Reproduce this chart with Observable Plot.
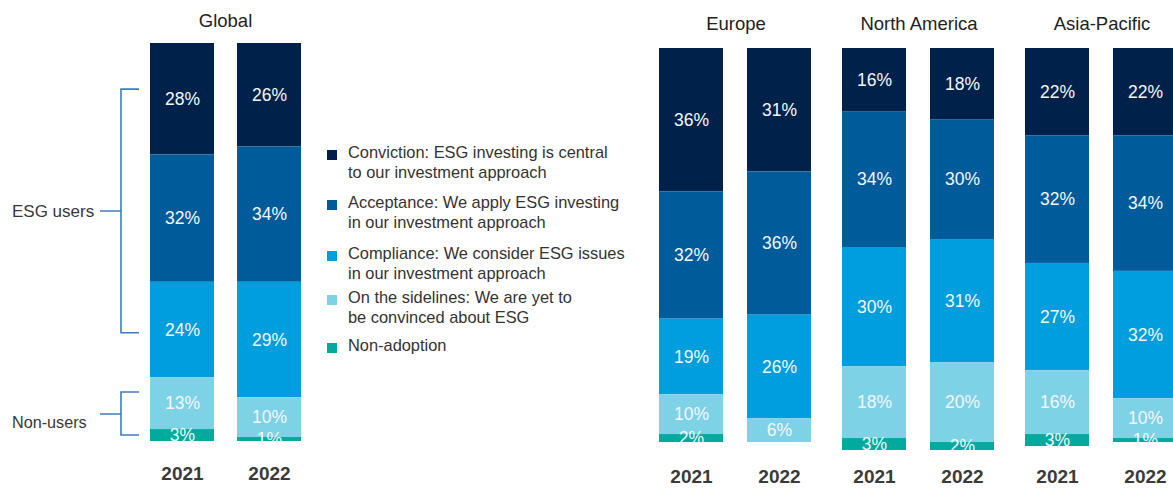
<!DOCTYPE html>
<html><head><meta charset="utf-8">
<script src="https://cdn.jsdelivr.net/npm/d3@7"></script>
<script src="https://cdn.jsdelivr.net/npm/@observablehq/plot@0.6"></script>
<style>
html,body{margin:0;padding:0;background:#fff;}
#wrap{position:relative;width:1173px;height:488px;overflow:hidden;font-family:"Liberation Sans",Arial,sans-serif;}
#left{position:absolute;left:0;top:0;width:330px;height:488px;}
#right{position:absolute;left:620px;top:0;width:600px;height:488px;}
#legend{position:absolute;left:327px;top:0;width:300px;height:488px;}
svg{max-width:none !important;}
.li{position:absolute;left:0;font-size:16.4px;line-height:20px;color:#333;}
.sw{position:absolute;left:0;top:8px;width:10px;height:10px;}
.tx{position:absolute;left:21px;top:0;white-space:nowrap;}
</style></head>
<body><div id="wrap"><div id="left"></div><div id="legend"></div><div id="right"></div></div>
<script>
// ---- data ----
const categories = ["Conviction", "Acceptance", "Compliance", "On the sidelines", "Non-adoption"];
const legendLabels = [
  ["Conviction: ESG investing is central", "to our investment approach"],
  ["Acceptance: We apply ESG investing", "in our investment approach"],
  ["Compliance: We consider ESG issues", "in our investment approach"],
  ["On the sidelines: We are yet to", "be convinced about ESG"],
  ["Non-adoption"]
];
const colors = ["#00224A", "#005B9B", "#009EDC", "#7ED2E5", "#00AB9E"];
const years = ["2021", "2022"];
const regions = ["Global", "Europe", "North America", "Asia-Pacific"];
const global2021 = [28, 32, 24, 13, 3];
const global2022 = [26, 34, 29, 10, 1];
const europe2021 = [36, 32, 19, 10, 2];
const europe2022 = [31, 36, 26, 6, 0];
const northAmerica2021 = [16, 34, 30, 18, 3];
const northAmerica2022 = [18, 30, 31, 20, 2];
const asiaPacific2021 = [22, 32, 27, 16, 3];
const asiaPacific2022 = [22, 34, 32, 10, 1];
const groupLabels = ["ESG users", "Non-users"];

// ---- table ----
const series = {
  "Global": [global2021, global2022],
  "Europe": [europe2021, europe2022],
  "North America": [northAmerica2021, northAmerica2022],
  "Asia-Pacific": [asiaPacific2021, asiaPacific2022]
};
const rows = [];
for (const r of regions) years.forEach((yr, yi) => categories.forEach((c, ci) => rows.push({region: r, year: yr, category: c, value: series[r][yi][ci]})));

const font = '"Liberation Sans", Arial, sans-serif';
const label = d => d.value > 0 ? d.value + "%" : null;

function panel(data, fxDomain, opts) {
  return Plot.plot({
    width: opts.width, height: 488,
    marginTop: opts.top, marginBottom: 488 - opts.bottom,
    marginLeft: opts.left, marginRight: opts.right,
    style: {fontFamily: font, background: "transparent", overflow: "visible", maxWidth: "none"},
    fx: {domain: fxDomain, paddingInner: opts.fxPad, paddingOuter: 0, label: null},
    x: {domain: years, paddingInner: 0.27, paddingOuter: 0, label: null},
    y: {domain: [0, 100], reverse: true, axis: null},
    color: {domain: categories, range: colors},
    marks: [
      Plot.barY(data, {fx: "region", x: "year", y: "value", fill: "category"}),
      Plot.text(data, Plot.stackY({fx: "region", x: "year", y: "value", z: "category", text: label, fill: "#F4F7FA", fontSize: 17.5})),
      Plot.axisFx({anchor: "top", tickSize: 0, tickPadding: opts.titlePad, fontSize: 18.5, fill: "#222", label: null}),
      Plot.axisX({anchor: "bottom", tickSize: 0, tickPadding: opts.yearPad, fontSize: 19, fontWeight: "bold", fill: "#3a3a3a", label: null})
    ]
  });
}

const leftChart = panel(rows.filter(d => d.region === "Global"), ["Global"],
  {width: 330, top: 43, bottom: 441, left: 149, right: 29, fxPad: 0, titlePad: 17, yearPad: 25});
document.getElementById("left").appendChild(leftChart);

const rightChart = panel(rows.filter(d => d.region !== "Global"), regions.slice(1),
  {width: 600, top: 48, bottom: 446, left: 39, right: 42, fxPad: 0.164, titlePad: 19, yearPad: 23});
document.getElementById("right").appendChild(rightChart);

// ---- brackets (annotations on the Global panel) ----
const ys = leftChart.scale("y");
const bracketSpans = [[11.6, 72.8, 42.2, 42.2], [87.7, 98.5, 93.2, 95.2]];
const svg = d3.select(leftChart);
bracketSpans.forEach(([a, b, stub, ty], i) => {
  const y1 = ys.apply(a), y2 = ys.apply(b), ym = ys.apply(stub), yt = ys.apply(ty);
  svg.append("path").attr("fill", "none").attr("stroke", "#3B7DBE").attr("stroke-width", 1.6)
    .attr("d", `M139,${y1}H121V${y2}H139M121,${ym}H100`);
  svg.append("text").attr("x", 12).attr("y", yt).attr("dy", "0.35em").attr("text-anchor", "start")
    .attr("font-size", i === 0 ? 17 : 16.2).attr("fill", "#383838").attr("font-family", font).text(groupLabels[i]);
});

// ---- legend ----
const legendTops = [142, 192, 243, 287, 335];
const leg = document.getElementById("legend");
categories.forEach((c, i) => {
  const item = document.createElement("div");
  item.className = "li";
  item.style.top = legendTops[i] + "px";
  item.innerHTML = `<div class="sw" style="background:${colors[i]}"></div><div class="tx">${legendLabels[i].join("<br>")}</div>`;
  leg.appendChild(item);
});
</script></body></html>
